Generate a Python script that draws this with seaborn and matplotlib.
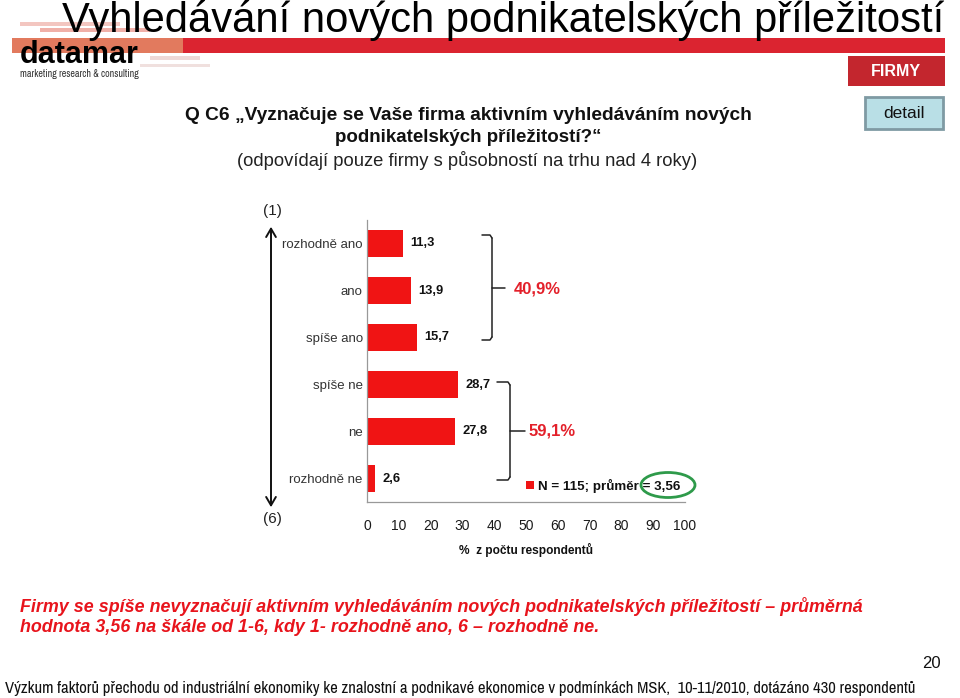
import matplotlib
matplotlib.use("Agg")
import matplotlib.pyplot as plt
import seaborn as sns
import pandas as pd
from matplotlib import font_manager
from matplotlib.patches import Rectangle, Ellipse, FancyArrowPatch
from matplotlib.lines import Line2D

# ---------------- data ----------------
categories = ["rozhodně ano", "ano", "spíše ano", "spíše ne", "ne", "rozhodně ne"]
values = [11.3, 13.9, 15.7, 28.7, 27.8, 2.6]
value_labels = ["11,3", "13,9", "15,7", "28,7", "27,8", "2,6"]
x_ticks = [0, 10, 20, 30, 40, 50, 60, 70, 80, 90, 100]
group_labels = ["40,9%", "59,1%"]

title = "Vyhledávání nových podnikatelských příležitostí"
question1 = "Q C6 „Vyznačuje se Vaše firma aktivním vyhledáváním nových"
question2 = "podnikatelských příležitostí?“"
question3 = "(odpovídají pouze firmy s působností na trhu nad 4 roky)"
legend_text = "N = 115; průměr = 3,56"
xlabel = "%  z počtu respondentů"
conclusion1 = "Firmy se spíše nevyznačují aktivním vyhledáváním nových podnikatelských příležitostí – průměrná"
conclusion2 = "hodnota 3,56 na škále od 1-6, kdy 1- rozhodně ano, 6 – rozhodně ne."
footer = ("Výzkum faktorů přechodu od industriální ekonomiky ke znalostní a podnikavé "
          "ekonomice v podmínkách MSK,  10-11/2010, dotázáno 430 respondentů")

# ---------------- fonts ----------------
sns.set_theme(style="white")
names = {f.name for f in font_manager.fontManager.ttflist}
BASE = "Liberation Sans" if "Liberation Sans" in names else "DejaVu Sans"
NARROW = BASE
for cand in ["Liberation Sans Narrow", "Arial Narrow", "Archivo Narrow",
             "Roboto Condensed", "PT Sans Narrow", "Sofia Sans Condensed",
             "Barlow Condensed"]:
    if cand in names:
        NARROW = cand
        break
plt.rcParams["font.family"] = [BASE, "DejaVu Sans"]

W, H = 960, 698
fig = plt.figure(figsize=(W / 100, H / 100), dpi=100)
fig.patch.set_facecolor("white")


def fx(px):
    return px / W


def fy(py):
    return 1 - py / H


RED = "#f01414"

# ---------------- main axes ----------------
ax = fig.add_axes([fx(367), fy(502), fx(685) - fx(367), fy(220) - fy(502)])
df = pd.DataFrame({"cat": categories, "val": values})
sns.barplot(data=df, x="val", y="cat", color=RED, width=0.58, ax=ax,
            saturation=1, edgecolor="none")
ax.set_xlim(0, 100)
ax.set_ylim(5.5, -0.5)
ax.set_xticks(x_ticks)
ax.set_xticklabels([str(t) for t in x_ticks], fontsize=10, color="#1a1a1a")
ax.set_xlabel("")
ax.set_ylabel("")
ax.set_yticks(range(len(categories)))
ax.set_yticklabels(categories, fontsize=9.5, color="#333333")
ax.set_yticks([i - 0.5 for i in range(len(categories) + 1)], minor=True)
ax.tick_params(axis="y", which="major", length=0, pad=3)
ax.tick_params(axis="y", which="minor", length=4, color="#999999", width=0.8,
               direction="out")
ax.tick_params(axis="x", which="major", length=4, color="#999999", width=0.8,
               direction="out", pad=8)
for s in ["top", "right"]:
    ax.spines[s].set_visible(False)
for s in ["left", "bottom"]:
    ax.spines[s].set_color("#999999")
    ax.spines[s].set_linewidth(0.9)
ax.set_facecolor("white")
ax.grid(False)

for i, (v, lab) in enumerate(zip(values, value_labels)):
    ax.text(v + 2.3, i, lab, va="center", ha="left", fontsize=9.3,
            fontweight="bold", color="#111111")

# ---------------- brackets ----------------
def bracket(x0, x1, ytop, ybot, ytip, xtip):
    kw = dict(color="#222222", lw=1.1, transform=fig.transFigure)
    fig.add_artist(Line2D([fx(x0), fx(x1 - 2), fx(x1)], [fy(ytop), fy(ytop), fy(ytop + 3)], **kw))
    fig.add_artist(Line2D([fx(x1), fx(x1)], [fy(ytop + 3), fy(ybot - 3)], **kw))
    fig.add_artist(Line2D([fx(x0), fx(x1 - 2), fx(x1)], [fy(ybot), fy(ybot), fy(ybot - 3)], **kw))
    fig.add_artist(Line2D([fx(x1), fx(xtip)], [fy(ytip), fy(ytip)], **kw))


bracket(482, 492, 235, 340, 288, 505)
bracket(497, 510, 382, 480, 431, 525)
fig.text(fx(514), fy(289), group_labels[0], color="#e3202a", fontsize=12,
         fontweight="bold", va="center", ha="left")
fig.text(fx(529), fy(431), group_labels[1], color="#e3202a", fontsize=12,
         fontweight="bold", va="center", ha="left")

# ---------------- legend ----------------
fig.add_artist(Rectangle((fx(526), fy(489)), fx(534) - fx(526), fy(481) - fy(489),
                         transform=fig.transFigure, facecolor=RED, edgecolor="none"))
fig.text(fx(538), fy(486), legend_text, fontsize=9.6, fontweight="bold",
         va="center", ha="left", color="#111111")
fig.add_artist(Ellipse((fx(668), fy(485)), fx(54), 25 / H, transform=fig.transFigure,
                       facecolor="none", edgecolor="#2e9a4a", lw=2))

fig.text(fx(526), fy(550), xlabel, fontsize=8.6, fontweight="bold",
         ha="center", va="center", color="#111111")

# ---------------- left arrow ----------------
fig.add_artist(FancyArrowPatch(
    (fx(271), fy(510)), (fx(271), fy(224)), transform=fig.transFigure,
    arrowstyle="<->,head_length=6,head_width=3.5", color="#111111", lw=1.4))
fig.text(fx(272), fy(211), "(1)", fontsize=11, ha="center", va="center", color="#222222")
fig.text(fx(272), fy(519), "(6)", fontsize=11, ha="center", va="center", color="#222222")

# ---------------- header ----------------
for (x0, x1, y0, y1, c) in [(20, 120, 22, 26, "#f3c6c0"), (40, 150, 28, 32, "#f0b0a8"),
                            (150, 200, 56, 60, "#eed8d6"), (140, 210, 64, 67, "#f0e0de")]:
    fig.add_artist(Rectangle((fx(x0), fy(y1)), fx(x1) - fx(x0), fy(y0) - fy(y1),
                             transform=fig.transFigure, facecolor=c, edgecolor="none"))
fig.add_artist(Rectangle((fx(12), fy(53)), fx(183) - fx(12), fy(38) - fy(53),
                         transform=fig.transFigure, facecolor="#e27a5e", edgecolor="none"))
fig.add_artist(Rectangle((fx(183), fy(53)), fx(945) - fx(183), fy(38) - fy(53),
                         transform=fig.transFigure, facecolor="#db2430", edgecolor="none"))

renderer = fig.canvas.get_renderer()


def fit_text(x, y, s, target_w, size, max_size=None, **kw):
    t = fig.text(x, y, s, fontsize=size, **kw)
    w = t.get_window_extent(renderer).width
    new = size * target_w / w
    if max_size is not None:
        new = min(new, max_size)
    t.set_fontsize(new)
    return t


fit_text(fx(62), fy(32), title, 882, 26, max_size=30.5, family=[BASE, "DejaVu Sans"],
         ha="left", va="baseline", color="black")
fit_text(fx(20), fy(63), "datamar", 125, 18, max_size=22, family=[BASE, "DejaVu Sans"],
         fontweight="bold", ha="left", va="baseline", color="black")
fit_text(fx(20), fy(74), "marketing research & consulting", 123, 6, max_size=7.2,
         family=[NARROW, "DejaVu Sans"], ha="left", va="center", color="#333333")

# FIRMY box
fig.add_artist(Rectangle((fx(848), fy(86)), fx(945) - fx(848), fy(56) - fy(86),
                         transform=fig.transFigure, facecolor="#c3262e", edgecolor="none"))
fig.text(fx(896), fy(71), "FIRMY", fontsize=11.5, fontweight="bold", color="white",
         ha="center", va="center")
# detail box
fig.add_artist(Rectangle((fx(865), fy(129)), fx(943) - fx(865), fy(97) - fy(129),
                         transform=fig.transFigure, facecolor="#b9dfe6",
                         edgecolor="#7f9aa3", lw=2))
fig.text(fx(904), fy(114), "detail", fontsize=12.5, color="#111111",
         ha="center", va="center")

# question
fit_text(fx(468), fy(115), question1, 567, 13, fontweight="bold",
         ha="center", va="center", color="#111111")
fit_text(fx(468), fy(138), question2, 266, 13, fontweight="bold",
         ha="center", va="center", color="#111111")
fit_text(fx(467), fy(161), question3, 460, 13,
         ha="center", va="center", color="#222222")

# conclusion
fit_text(fx(20), fy(606), conclusion1, 838, 12, fontweight="bold", style="italic",
         ha="left", va="center", color="#e8141c")
fit_text(fx(20), fy(628), conclusion2, 578, 12, fontweight="bold", style="italic",
         ha="left", va="center", color="#e8141c")

fig.text(fx(931), fy(664), "20", fontsize=12, ha="center", va="center", color="#111111")
fit_text(fx(5), fy(688), footer, 913, 10, family=[NARROW, "DejaVu Sans"],
         ha="left", va="center", color="#111111")

fig.savefig("out.png", dpi=100, facecolor="white")
